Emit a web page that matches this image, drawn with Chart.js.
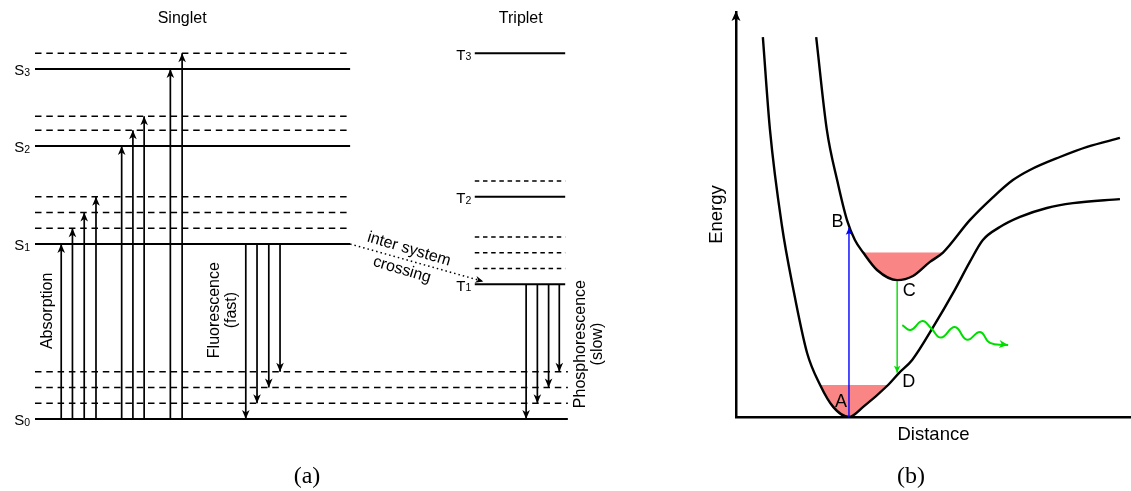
<!DOCTYPE html>
<html lang="en">
  <head>
    <meta charset="UTF-8" />
    <title>Jablonski diagram and potential energy curves</title>
    <script src="https://cdn.jsdelivr.net/npm/chart.js"></script>
    <style>
      body {
        margin: 0;
        width: 1131px;
        height: 491px;
        overflow: hidden;
        background: #fff;
        position: relative;
      }
      #jablonski {
        position: absolute;
        left: 0;
        top: 0;
      }
      #curves {
        position: absolute;
        left: 690px;
        top: 0;
      }
      .caption {
        position: absolute;
        top: 461px;
        line-height: 28px;
        font-family: "Liberation Serif", "Times New Roman", serif;
        font-size: 24px;
        transform: translateX(-50%);
      }
    </style>
  </head>
  <body>
    <canvas id="jablonski" width="640" height="491"></canvas>
    <canvas id="curves" width="441" height="491"></canvas>
    <div class="caption" style="left: 307px">(a)</div>
    <div class="caption" style="left: 911px">(b)</div>

    <script>
      const SANS = '"Liberation Sans", Arial, Helvetica, sans-serif';
      Chart.defaults.font.family = SANS;
      Chart.defaults.color = "#000";

      // ---- (a) energy levels (arbitrary units) ----
      const singletNames = ["S0", "S1", "S2", "S3"];
      const singletEnergy = [0, 5.0, 7.8, 10.0];
      const groundVib = [0.45, 0.9, 1.35];
      const singletVib = [5.45, 5.9, 6.35, 8.25, 8.65, 10.45];
      const tripletNames = ["T1", "T2", "T3"];
      const tripletEnergy = [3.85, 6.35, 10.45];
      const tripletVib = [4.3, 4.75, 5.2, 6.8];

      // transitions: horizontal slot and level reached
      const absorptionX = [4.9, 7.0, 9.2, 11.4, 16.2, 18.3, 20.4, 25.3, 27.5];
      const absorptionTo = [5.0, 5.45, 5.9, 6.35, 7.8, 8.25, 8.65, 10.0, 10.45];
      const fluorescenceX = [39.4, 41.5, 43.7, 45.8];
      const fluorescenceTo = [0, 0.45, 0.9, 1.35];
      const phosphorescenceX = [91.8, 93.9, 96.0, 98.0];
      const phosphorescenceTo = [0, 0.45, 0.9, 1.35];

      // ---- (b) potential energy curves ----
      const lowerDistance = [0.68, 0.86, 1.16, 1.44, 1.8, 2.13, 2.46, 2.86, 3.22, 3.85, 4.13, 4.46, 4.99, 5.54, 5.92, 6.25, 6.68, 7.19, 7.87, 8.53, 9.72];
      const lowerEnergy = [9.38, 7.09, 4.74, 3.21, 1.58, 0.79, 0.25, 0, 0.25, 0.79, 1.09, 1.41, 2.22, 3.14, 3.83, 4.37, 4.69, 4.94, 5.16, 5.28, 5.38];
      const upperDistance = [2.03, 2.3, 2.56, 2.81, 3.01, 3.22, 3.57, 4.08, 4.48, 4.91, 5.24, 5.92, 6.51, 7.01, 7.44, 8.2, 8.89, 9.72];
      const upperEnergy = [9.38, 7.09, 5.85, 4.86, 4.37, 4.06, 3.63, 3.38, 3.48, 3.83, 4.06, 4.86, 5.43, 5.85, 6.1, 6.42, 6.67, 6.89];
      const lowerWell = 0.79;
      const upperWell = 4.06;
      const excitationDistance = 2.86;
      const excitationEnergy = [0, 4.67];
      const emissionDistance = 4.08;
      const emissionEnergy = [3.36, 1.09];
      const photonDistance = [4.21, 4.42, 4.72, 4.94, 5.19, 5.54, 5.85, 6.18, 6.43, 6.89];
      const photonEnergy = [2.27, 2.15, 2.37, 2.19, 1.96, 2.22, 1.91, 2.1, 1.83, 1.78];

      const SINGLET_X = [0, 58.9];
      const TRIPLET_X = [82.2, 99.1];
      const GROUND_X = [0, 99.6];
      const PINK = "#f98585";
      const GREEN = "#00dd00";

      function points(xs, ys) {
        return xs.map((v, i) => ({ x: v, y: ys[i] }));
      }

      function seg(x0, y0, x1, y1, opts) {
        return Object.assign(
          {
            data: [{ x: x0, y: y0 }, { x: x1, y: y1 }],
            borderColor: "#000",
            borderWidth: 1.7,
            pointRadius: 0,
            clip: false,
          },
          opts
        );
      }

      // horizontal rim of a well: between the two curve points sitting at that level
      function rim(dist, energy, level) {
        const a = dist[energy.indexOf(level)];
        const b = dist[energy.lastIndexOf(level)];
        return points([a, b], [level, level]);
      }

      // filled, notched arrow head at the last point of any dataset with `arrow`
      const arrowHeads = {
        id: "arrowHeads",
        afterDatasetsDraw(chart) {
          const ctx = chart.ctx;
          chart.data.datasets.forEach((ds, i) => {
            if (!ds.arrow) return;
            const pts = chart.getDatasetMeta(i).data;
            const tip = pts[pts.length - 1];
            const prev = pts[pts.length - 2];
            const a = Math.atan2(tip.y - prev.y, tip.x - prev.x);
            const { len, half, notch } = ds.arrow;
            ctx.save();
            ctx.translate(tip.x, tip.y);
            ctx.rotate(a);
            ctx.beginPath();
            ctx.moveTo(0, 0);
            ctx.lineTo(-len, -half);
            ctx.lineTo(-len + notch, 0);
            ctx.lineTo(-len, half);
            ctx.closePath();
            ctx.fillStyle = ds.borderColor;
            ctx.fill();
            ctx.restore();
          });
        },
      };

      function levelName(ctx, name, right, midY) {
        const base = name[0];
        const sub = name.slice(1);
        ctx.font = "15px " + SANS;
        const w1 = ctx.measureText(base).width;
        ctx.font = "10.5px " + SANS;
        const w2 = ctx.measureText(sub).width;
        const left = right - w1 - w2;
        ctx.textAlign = "left";
        ctx.textBaseline = "alphabetic";
        ctx.font = "15px " + SANS;
        ctx.fillText(base, left, midY + 6.3);
        ctx.font = "10.5px " + SANS;
        ctx.fillText(sub, left + w1, midY + 7.2);
      }

      function textBlock(ctx, lines, cx, cy, angle, lineH) {
        ctx.save();
        ctx.translate(cx, cy);
        ctx.rotate(angle);
        ctx.textAlign = "center";
        ctx.textBaseline = "middle";
        lines.forEach((t, k) => ctx.fillText(t, 0, (k - (lines.length - 1) / 2) * lineH));
        ctx.restore();
      }

      const jablonskiText = {
        id: "jablonskiText",
        afterDraw(chart) {
          const { ctx, chartArea, scales } = chart;
          const x = scales.x;
          const y = scales.y;
          ctx.save();
          ctx.fillStyle = "#000";
          singletNames.forEach((n, i) =>
            levelName(ctx, n, x.getPixelForValue(SINGLET_X[0]) - 5, y.getPixelForValue(singletEnergy[i]))
          );
          tripletNames.forEach((n, i) =>
            levelName(ctx, n, x.getPixelForValue(TRIPLET_X[0]) - 3.5, y.getPixelForValue(tripletEnergy[i]))
          );
          ctx.font = "16px " + SANS;
          ctx.textAlign = "center";
          ctx.textBaseline = "middle";
          ctx.fillText("Singlet", x.getPixelForValue(27.5), chartArea.top - 15);
          ctx.fillText("Triplet", x.getPixelForValue(90.8), chartArea.top - 15);
          const up = -Math.PI / 2;
          textBlock(ctx, ["Absorption"], x.getPixelForValue(2.43), y.getPixelForValue(3.09), up, 17.5);
          textBlock(ctx, ["Fluorescence", "(fast)"], x.getPixelForValue(35.2), y.getPixelForValue(3.11), up, 17.5);
          textBlock(ctx, ["Phosphorescence", "(slow)"], x.getPixelForValue(103.55), y.getPixelForValue(2.14), up, 17.5);
          textBlock(ctx, ["inter system"], x.getPixelForValue(69.9), y.getPixelForValue(4.85), 0.29, 17.5);
          textBlock(ctx, ["crossing"], x.getPixelForValue(68.6), y.getPixelForValue(4.26), 0.29, 17.5);
          ctx.restore();
        },
      };

      // level lines
      const DASH_S = [6.5, 4.8];
      const DASH_T = [4.5, 3.7];
      const levelSets = [];
      singletEnergy.forEach((e, i) => {
        const span = i === 0 ? GROUND_X : SINGLET_X;
        levelSets.push(seg(span[0], e, span[1], e, { borderWidth: 2 }));
      });
      groundVib.forEach((e) => levelSets.push(seg(GROUND_X[0], e, GROUND_X[1], e, { borderDash: DASH_S })));
      singletVib.forEach((e) => levelSets.push(seg(SINGLET_X[0], e, SINGLET_X[1], e, { borderDash: DASH_S })));
      tripletEnergy.forEach((e) => levelSets.push(seg(TRIPLET_X[0], e, TRIPLET_X[1], e, { borderWidth: 2 })));
      tripletVib.forEach((e) => levelSets.push(seg(TRIPLET_X[0], e, TRIPLET_X[1], e, { borderDash: DASH_T })));

      // transition arrows
      const HEAD = { len: 9, half: 3.8, notch: 2.5 };
      const transitionSets = [];
      absorptionX.forEach((x, i) => transitionSets.push(seg(x, singletEnergy[0], x, absorptionTo[i], { arrow: HEAD })));
      fluorescenceX.forEach((x, i) => transitionSets.push(seg(x, singletEnergy[1], x, fluorescenceTo[i], { arrow: HEAD })));
      phosphorescenceX.forEach((x, i) =>
        transitionSets.push(seg(x, tripletEnergy[0], x, phosphorescenceTo[i], { arrow: HEAD }))
      );
      transitionSets.push(
        seg(SINGLET_X[1], singletEnergy[1], 83.8, tripletEnergy[0] + 0.08, {
          borderWidth: 1.5,
          borderDash: [1.5, 3],
          arrow: { len: 8, half: 3.5, notch: 2.5 },
        })
      );

      new Chart(document.getElementById("jablonski"), {
        type: "line",
        data: { datasets: levelSets.concat(transitionSets) },
        options: {
          responsive: false,
          animation: false,
          events: [],
          layout: { autoPadding: false, padding: { left: 35, right: 70, top: 34, bottom: 72 } },
          plugins: { legend: { display: false }, tooltip: { enabled: false } },
          scales: {
            x: { type: "linear", min: 0, max: 100, display: false },
            y: { type: "linear", min: 0, max: 11, display: false },
          },
        },
        plugins: [arrowHeads, jablonskiText],
      });

      // ---- (b) ----
      const curveText = {
        id: "curveText",
        afterDraw(chart) {
          const { ctx, chartArea, scales } = chart;
          const x = scales.x;
          const y = scales.y;
          ctx.save();
          ctx.fillStyle = "#000";
          // arrow tip on the energy axis
          const ax = x.getPixelForValue(0);
          const ay = chartArea.top;
          ctx.beginPath();
          ctx.moveTo(ax, ay - 1);
          ctx.lineTo(ax - 4.5, ay + 9);
          ctx.lineTo(ax, ay + 6.5);
          ctx.lineTo(ax + 4.5, ay + 9);
          ctx.closePath();
          ctx.fill();
          ctx.font = "18px " + SANS;
          ctx.textAlign = "center";
          ctx.textBaseline = "middle";
          const put = (t, xv, yv, dx, dy) => ctx.fillText(t, x.getPixelForValue(xv) + dx, y.getPixelForValue(yv) + dy);
          put("A", excitationDistance, excitationEnergy[0], -8, -15);
          put("B", excitationDistance, excitationEnergy[1], -11.5, -6);
          put("C", emissionDistance, emissionEnergy[0], 12, 10);
          put("D", emissionDistance, emissionEnergy[1], 11.5, 8.7);
          ctx.restore();
        },
      };

      const curveStyle = {
        borderColor: "#000",
        borderWidth: 2.4,
        pointRadius: 0,
        cubicInterpolationMode: "monotone",
        fill: { target: "+1", above: PINK, below: PINK },
        order: 2,
      };
      const rimStyle = { borderWidth: 0, borderColor: "rgba(0,0,0,0)", pointRadius: 0, fill: false, order: 2 };

      new Chart(document.getElementById("curves"), {
        type: "line",
        data: {
          datasets: [
            {
              data: points([excitationDistance, excitationDistance], excitationEnergy),
              borderColor: "#0000ff",
              borderWidth: 1.4,
              pointRadius: 0,
              clip: false,
              order: 1,
              arrow: { len: 7, half: 3.2, notch: 1.5 },
            },
            {
              data: points([emissionDistance, emissionDistance], emissionEnergy),
              borderColor: GREEN,
              borderWidth: 1.4,
              pointRadius: 0,
              clip: false,
              order: 1,
              arrow: { len: 7, half: 3.2, notch: 1.5 },
            },
            {
              data: points(photonDistance, photonEnergy),
              borderColor: GREEN,
              borderWidth: 2,
              pointRadius: 0,
              tension: 0.45,
              clip: false,
              order: 1,
              arrow: { len: 9, half: 4, notch: 2.5 },
            },
            Object.assign({ data: points(lowerDistance, lowerEnergy) }, curveStyle),
            Object.assign({ data: rim(lowerDistance, lowerEnergy, lowerWell) }, rimStyle),
            Object.assign({ data: points(upperDistance, upperEnergy) }, curveStyle),
            Object.assign({ data: rim(upperDistance, upperEnergy, upperWell) }, rimStyle),
          ],
        },
        options: {
          responsive: false,
          animation: false,
          events: [],
          layout: { autoPadding: false, padding: { left: 0, right: 0, top: 12, bottom: 34 } },
          plugins: { legend: { display: false }, tooltip: { enabled: false } },
          scales: {
            x: {
              type: "linear",
              min: 0,
              max: 10,
              grid: { display: false, drawTicks: false },
              ticks: { display: false },
              border: { color: "#000", width: 2.5 },
              title: {
                display: true,
                text: "Distance",
                color: "#000",
                font: { size: 18.5 },
                padding: { top: 0, bottom: 10.9 },
              },
              afterFit(s) {
                s.height = 40;
              },
            },
            y: {
              type: "linear",
              min: 0,
              max: 10,
              grid: { display: false, drawTicks: false },
              ticks: { display: false },
              border: { color: "#000", width: 2.5 },
              title: {
                display: true,
                text: "Energy",
                color: "#000",
                font: { size: 18.5 },
                padding: { top: 15.4, bottom: 0 },
              },
              afterFit(s) {
                s.width = 46;
              },
            },
          },
        },
        plugins: [arrowHeads, curveText],
      });
    </script>
  </body>
</html>
